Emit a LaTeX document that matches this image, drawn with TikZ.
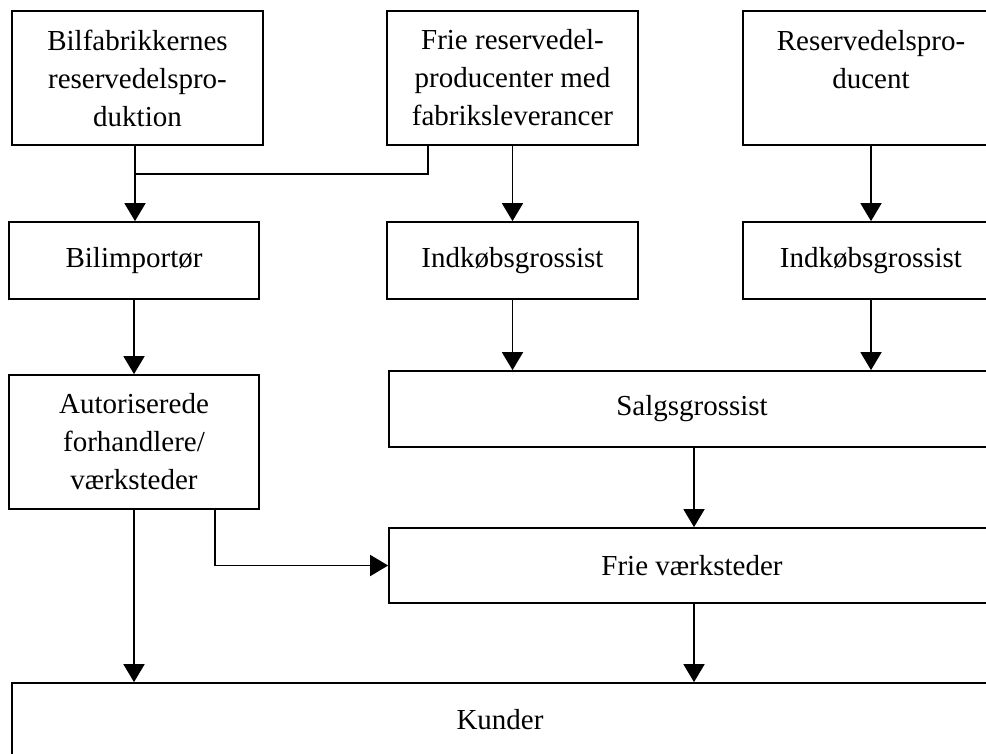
\documentclass[tikz,border=0pt]{standalone}
\usepackage{fontspec}
\setmainfont{Liberation Serif}
\usepackage{tikz}
\usetikzlibrary{positioning,arrows.meta,calc}
\tikzset{
  flowarrow/.style={-{Triangle[length=3.6mm, width=4.2mm]}, line width=1pt},
  flowline/.style={line width=1pt},
  tallbox/.style={draw, line width=1pt, minimum width=5.02cm, minimum height=2.68cm, align=center, inner sep=0pt},
  lowbox/.style={draw, line width=1pt, minimum width=5.02cm, minimum height=1.54cm, align=center, inner sep=0pt},
  widebox/.style={draw, line width=1pt, minimum width=12.12cm, minimum height=1.52cm, align=center, inner sep=0pt}
}

\begin{document}
\begin{tikzpicture}[every node/.style={font=\fontsize{16.5}{21.6}\selectfont}]
  \useasboundingbox (0,0) rectangle (19.72,-15.06);
  \clip (0,0) rectangle (19.72,-15.06);
  % top row
  \node[tallbox] (fab) at (2.75,-1.56) {Bilfabrikkernes\\reservedelspro-\\duktion};
  \node[tallbox] (frie) at (10.25,-1.56) {Frie reservedel-\\producenter med\\fabriksleverancer};
  \node[tallbox, minimum width=5.12cm] (resprod) at (17.42,-1.56) {Reservedelspro-\\ducent\\\mbox{}};
  % second row
  \node[lowbox, minimum width=5.0cm] (imp) at (2.68,-5.21) {Bilimportør};
  \node[lowbox] (indk1) at (10.25,-5.21) {Indkøbsgrossist};
  \node[lowbox, minimum width=5.12cm] (indk2) at (17.42,-5.21) {Indkøbsgrossist};
  % lower rows
  \node[tallbox, minimum width=5.0cm] (aut) at (2.68,-8.84) {Autoriserede\\forhandlere/\\værksteder};
  \node[widebox] (salg) at (13.84,-8.18) {Salgsgrossist};
  \node[widebox, minimum height=1.5cm] (frv) at (13.84,-11.31) {Frie værksteder};
  \node[draw, line width=1pt, minimum width=19.52cm, minimum height=1.48cm, inner sep=0pt] (kund) at (10.0,-14.4) {Kunder};
  % connectors
  \coordinate (join) at (2.70,-3.48);
  \draw[flowline] (fab.south -| join) -- (join);
  \draw[flowline] ([xshift=-1.69cm]frie.south) |- (join);
  \draw[flowarrow] (join) -- (join |- imp.north);
  \draw[flowarrow] (frie.south) -- (indk1.north);
  \draw[flowarrow] (resprod.south) -- (indk2.north);
  \draw[flowarrow] (indk1.south) -- (indk1.south |- salg.north);
  \draw[flowarrow] (indk2.south) -- (indk2.south |- salg.north);
  \draw[flowarrow] (imp.south) -- (aut.north);
  \draw[flowarrow] ([xshift=0.04cm]salg.south) -- ([xshift=0.04cm]frv.north);
  \draw[flowarrow] ([xshift=1.62cm]aut.south) |- (frv.west);
  \draw[flowarrow] (aut.south) -- (aut.south |- kund.north);
  \draw[flowarrow] ([xshift=0.04cm]frv.south) -- ([xshift=0.04cm]frv.south |- kund.north);
\end{tikzpicture}
\end{document}
